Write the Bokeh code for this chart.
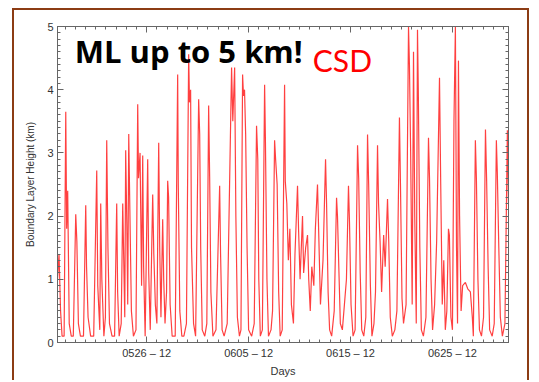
from bokeh.plotting import figure
from bokeh.models import (FixedTicker, LinearAxis, Label, Range1d, CustomJSTickFormatter)
from bokeh.embed import file_html
from bokeh.resources import INLINE

# time in days relative to 05/26 12:00, boundary layer height in km
days = [
    -8.75, -8.6, -8.45, -8.3, -8.1, -7.94, -7.85, -7.75, -7.6, -7.4, -7.2,
    -6.96, -6.85, -6.7, -6.5, -6.2,
    -5.98, -5.9, -5.75, -5.5, -5.2,
    -4.9, -4.8, -4.6, -4.51, -4.4, -4.2, -4.05,
    -3.92, -3.8, -3.65, -3.4, -3.15,
    -2.94, -2.85, -2.7, -2.5, -2.35, -2.25, -2.15,
    -2.06, -1.95, -1.86, -1.76, -1.65, -1.5, -1.3, -1.05,
    -0.88, -0.8, -0.65, -0.5, -0.39, -0.3, -0.15,
    0.1, 0.2, 0.35, 0.59, 0.7, 0.85, 1.0,
    1.18, 1.28, 1.4, 1.57, 1.67, 1.8, 1.95,
    2.06, 2.15, 2.3, 2.5, 2.8,
    3.04, 3.1, 3.25, 3.45, 3.65, 3.9,
    4.12, 4.2, 4.31, 4.4, 4.6, 4.8,
    5.1, 5.2, 5.3, 5.45, 5.7, 5.9,
    6.08, 6.18, 6.3, 6.5, 6.8,
    7.16, 7.25, 7.4, 7.6, 7.9,
    8.33, 8.45, 8.63, 8.75, 8.9, 9.1, 9.25,
    9.41, 9.5, 9.6, 9.71, 9.85, 10.0, 10.3, 10.55,
    10.78, 10.9, 11.0, 11.15, 11.35,
    11.57, 11.65, 11.8, 11.95, 12.2, 12.35,
    12.55, 12.65, 12.8, 12.95, 13.1, 13.3,
    13.53, 13.6, 13.75, 13.9, 14.05, 14.2, 14.4, 14.55,
    14.8, 14.9, 15.05, 15.29, 15.4, 15.6, 15.78, 15.9, 16.05, 16.2, 16.4, 16.55,
    16.76, 16.9, 17.05, 17.3,
    17.55, 17.65, 17.8, 17.95, 18.15, 18.4,
    18.63, 18.72, 18.85, 19.0, 19.2, 19.4, 19.6,
    19.8, 19.9, 20.05, 20.25, 20.45,
    20.69, 20.8, 20.95, 21.1, 21.3, 21.5,
    21.67, 21.78, 21.95, 22.1, 22.3, 22.45,
    22.65, 22.75, 22.9, 23.05, 23.25, 23.4,
    23.63, 23.75, 23.9, 24.1, 24.35, 24.55,
    24.8, 24.9, 25.05, 25.2, 25.45,
    25.69, 25.78, 25.9, 26.05, 26.18, 26.3, 26.45,
    26.57, 26.65, 26.8, 26.95, 27.15, 27.4,
    27.65, 27.75, 27.9, 28.05, 28.25, 28.45,
    28.73, 28.85, 29.0, 29.15, 29.3, 29.45,
    29.61, 29.7, 29.85, 30.0, 30.15,
    30.29, 30.4, 30.5, 30.59, 30.7, 30.85, 31.0,
    31.27, 31.5, 31.76, 31.95, 32.05,
    32.25, 32.35, 32.5, 32.65, 32.85, 33.05,
    33.24, 33.35, 33.5, 33.65, 33.9, 34.1,
    34.31, 34.4, 34.55, 34.7, 34.9, 35.15,
    35.39, 35.5,
]
height_km = [
    1.0, 1.4, 0.5, 0.1, 0.1, 3.65, 1.8, 2.4, 0.3, 0.1, 0.1,
    2.03, 1.6, 0.3, 0.1, 0.1,
    2.17, 1.2, 0.4, 0.1, 0.1,
    2.72, 0.9, 0.2, 2.2, 1.0, 0.1, 0.4,
    3.2, 1.5, 0.3, 0.1, 0.1,
    2.2, 0.8, 0.1, 0.3, 2.2, 1.3, 0.4,
    3.04, 1.9, 0.6, 3.3, 2.1, 0.5, 0.1, 0.2,
    3.77, 2.6, 3.0, 0.9, 2.96, 1.2, 0.1,
    2.9, 1.1, 0.2, 2.34, 1.4, 0.6, 0.3,
    3.16, 1.5, 0.4, 1.95, 1.0, 0.3, 0.8,
    2.56, 2.3, 0.6, 0.1, 0.1,
    4.24, 2.5, 0.5, 0.1, 0.1, 0.3,
    4.56, 3.8, 4.0, 1.5, 0.3, 0.1,
    3.85, 3.3, 1.5, 0.2, 0.1, 0.3,
    3.75, 2.6, 0.8, 0.1, 0.2,
    2.48, 1.4, 0.2, 0.1, 0.3,
    4.35, 3.5, 4.35, 2.0, 0.4, 0.1, 0.2,
    4.24, 3.9, 4.0, 3.3, 1.5, 0.2, 0.1, 0.3,
    3.43, 2.9, 1.0, 0.1, 0.2,
    4.08, 3.2, 1.0, 0.1, 0.2, 0.5,
    3.2, 2.9, 2.5, 0.8, 0.1, 0.2,
    4.08, 2.55, 2.2, 1.3, 1.8, 0.6, 0.3, 1.4,
    2.48, 1.8, 1.0, 2.0, 1.1, 1.5, 1.7, 1.0, 0.5, 1.2, 0.9, 1.8,
    2.5, 1.6, 0.6, 1.3,
    2.9, 2.2, 0.8, 0.2, 0.1, 0.5,
    2.29, 2.0, 1.2, 0.3, 0.2, 0.6, 1.0,
    2.48, 1.9, 0.6, 0.1, 0.2,
    3.12, 2.6, 1.1, 0.2, 0.1, 0.4,
    3.29, 2.5, 0.9, 0.1, 0.3, 0.8,
    3.12, 2.2, 1.6, 0.8, 1.7, 1.2,
    2.27, 1.6, 0.4, 0.1, 0.2, 0.5,
    3.56, 2.5, 0.7, 0.3, 0.6,
    5.0, 4.4, 3.0, 0.6, 4.6, 2.0, 0.3,
    4.95, 4.0, 1.5, 0.2, 0.1, 0.4,
    3.24, 2.6, 1.0, 0.2, 0.6, 1.6,
    4.19, 2.5, 0.6, 1.3, 0.2, 0.5,
    1.8, 1.7, 0.4, 0.2, 3.5,
    5.0, 1.5, 0.3, 4.46, 2.0, 0.5, 0.9,
    0.95, 0.85, 0.8, 0.4, 0.1,
    3.2, 2.6, 1.0, 0.2, 0.1, 0.4,
    3.37, 2.6, 1.2, 0.2, 0.1, 0.3,
    3.2, 2.7, 1.5, 0.4, 0.1, 0.3,
    3.36, 2.2,
]

major_ticks = [0, 10, 20, 30]
tick_labels = ["0526 \u2013 12", "0605 \u2013 12", "0615 \u2013 12", "0625 \u2013 12"]
minor_ticks = list(range(-8, 36))
y_ticks = [0, 1, 2, 3, 4, 5]

brown = "2px solid #8c3c14"
p = figure(width=517, height=372, output_backend="svg", toolbar_location=None,
           x_range=Range1d(-8.75, 35.5), y_range=Range1d(0, 5),
           x_axis_location=None, y_axis_location=None,
           min_border_left=43, min_border_right=23, min_border_top=16, min_border_bottom=40)
p.styles = {"margin-left": "12px", "margin-top": "8px",
            "border-left": brown, "border-top": brown, "border-right": brown}
p.grid.visible = False
p.outline_line_color = "#666666"
p.background_fill_color = "white"
p.border_fill_color = "white"

p.line(days, height_km, line_color="#ff0000", line_width=1.2, line_alpha=0.75)

axis_color = "#666666"
lbl_color = "#333333"
font = "Liberation Sans"

def style(ax, show_labels):
    ax.axis_line_color = axis_color
    ax.major_tick_line_color = axis_color
    ax.minor_tick_line_color = axis_color
    ax.major_tick_in = 6
    ax.major_tick_out = 0
    ax.minor_tick_in = 3
    ax.minor_tick_out = 0
    ax.major_label_text_font = font
    ax.major_label_text_font_size = "11px"
    ax.major_label_text_color = lbl_color
    ax.axis_label_text_font = font
    ax.axis_label_text_font_style = "normal"
    ax.axis_label_text_color = lbl_color
    if not show_labels:
        ax.formatter = CustomJSTickFormatter(code="return ''")
        ax.major_label_standoff = 0

xt = FixedTicker(ticks=major_ticks, minor_ticks=minor_ticks)
yt = FixedTicker(ticks=y_ticks, minor_ticks=[i / 10 for i in range(0, 51)])

xb = LinearAxis(ticker=xt, axis_label="Days")
xb.major_label_overrides = {t: l for t, l in zip(major_ticks, tick_labels)}
style(xb, True)
xb.major_label_standoff = 4
xb.axis_label_standoff = 3
xb.axis_label_text_font_size = "11px"
p.add_layout(xb, "below")

xa = LinearAxis(ticker=xt)
style(xa, False)
p.add_layout(xa, "above")

yl = LinearAxis(ticker=yt, axis_label="Boundary Layer Height (km)")
style(yl, True)
yl.major_label_standoff = 4
yl.axis_label_standoff = 8
yl.axis_label_text_font_size = "10px"
p.add_layout(yl, "left")

yr = LinearAxis(ticker=yt)
style(yr, False)
p.add_layout(yr, "right")

p.add_layout(Label(x=-7.05, y=4.61, text="ML up to 5 km!", text_font="Open Sans",
                   text_font_style="bold", text_font_size="31px", text_color="black",
                   text_baseline="alphabetic"))
p.add_layout(Label(x=16.3, y=4.47, text="CSD", text_font="Lato",
                   text_font_size="30px", text_color="#ff0000",
                   text_baseline="alphabetic"))

open("out.html", "w").write(file_html(p, INLINE))
